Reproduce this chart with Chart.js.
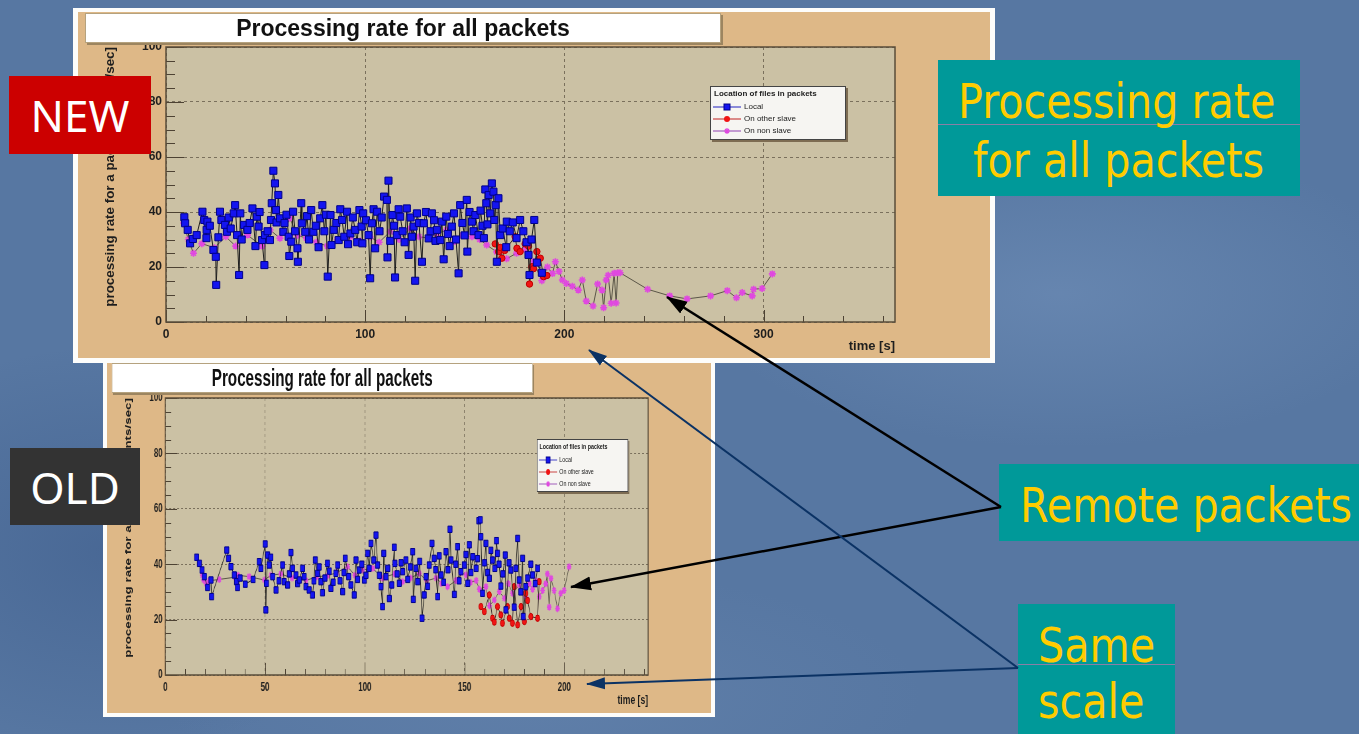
<!DOCTYPE html>
<html>
<head>
<meta charset="utf-8">
<title>Processing rate for all packets</title>
<script src="https://cdn.jsdelivr.net/npm/chart.js@4.4.1/dist/chart.umd.min.js"></script>
<style>
  html, body { margin: 0; padding: 0; }
  body {
    width: 1359px; height: 734px; overflow: hidden; position: relative;
    background:
      radial-gradient(ellipse 38% 30% at 78% 40%, rgba(130,160,200,0.35), rgba(130,160,200,0) 70%),
      radial-gradient(ellipse 30% 40% at 8% 75%, rgba(40,70,120,0.30), rgba(40,70,120,0) 70%),
      radial-gradient(ellipse 40% 25% at 40% 95%, rgba(120,150,190,0.25), rgba(120,150,190,0) 70%),
      #5777a2;
    font-family: "Liberation Sans", Arial, sans-serif;
  }
  .frame { position: absolute; background: #fdfdfb; }
  .panel { position: absolute; width: 912px; background: #deb887; transform-origin: 0 0; }
  .panel canvas { position: absolute; left: 0; top: 0; }
  .ptitle {
    position: absolute; left: 7px; top: 1px; width: 634px; height: 28px;
    background: #fff; border: 1px solid #b5a27e; box-shadow: 2px 2px 0 #9c8560;
    font: bold 23px "Liberation Sans"; line-height: 29px; text-align: center; color: #111;
  }
  .legend {
    position: absolute; background: #f6f5f2; border: 1px solid #444;
    box-shadow: 2px 2px 0 #7d6c52; font: 8px "Liberation Sans"; color: #222;
  }
  .legend .lh { position: absolute; left: 3px; top: 2px; font-weight: bold; white-space: nowrap; }
  .legend .le { position: absolute; left: 2px; height: 12px; line-height: 12px; white-space: nowrap; }
  .legend svg { vertical-align: middle; margin-right: 3px; }
  .xtitle { position: absolute; width: 100px; text-align: right; font: bold 13px "Liberation Sans"; color: #1e1e1e; }
  .tag { position: absolute; color: #fff; font: 44px "Noto Sans"; display: flex; align-items: center; justify-content: center; }
  .teal { position: absolute; background: #009999; }
  .yl {
    position: absolute; color: #ffcc00; font: 48px "DejaVu Sans"; line-height: 48px;
    white-space: nowrap; transform: scaleX(0.86); transform-origin: 0 0;
  }
  #arrows { position: absolute; left: 0; top: 0; }
</style>
</head>
<body>

<div class="frame" style="left:73px;top:8px;width:922px;height:355px"></div>
<div class="panel" id="newPanel" style="left:78px;top:12px;height:346px">
  <canvas id="newChart" width="912" height="346"></canvas>
  <div class="ptitle">Processing rate for all packets</div>
  <div class="legend" style="left:632px;top:74px;width:134px;height:52px">
    <div class="lh">Location of files in packets</div>
    <div class="le" style="top:14px"><svg width="28" height="10"><line x1="0" y1="5" x2="28" y2="5" stroke="#2020c0"/><rect x="11" y="2" width="6" height="6" fill="#1414f0" stroke="#00008a"/></svg>Local</div>
    <div class="le" style="top:26px"><svg width="28" height="10"><line x1="0" y1="5" x2="28" y2="5" stroke="#c02020"/><circle cx="14" cy="5" r="3" fill="#f01414"/></svg>On other slave</div>
    <div class="le" style="top:38px"><svg width="28" height="10"><line x1="0" y1="5" x2="28" y2="5" stroke="#9040b0"/><path d="M11 5h6M14 2v6M12 3l4 4M16 3l-4 4" stroke="#e048e0" stroke-width="1.2"/></svg>On non slave</div>
  </div>
  <div class="xtitle" style="left:717px;top:326px">time [s]</div>
</div>

<div class="frame" style="left:103px;top:360px;width:612px;height:357px"></div>
<div class="panel" id="oldPanel" style="left:107px;top:363px;height:350px;transform:scaleX(0.6623)">
  <canvas id="oldChart" width="912" height="350"></canvas>
  <div class="ptitle" style="top:0px">Processing rate for all packets</div>
  <div class="legend" style="left:649px;top:76px;width:136px;height:51px">
    <div class="lh">Location of files in packets</div>
    <div class="le" style="top:14px"><svg width="28" height="10"><line x1="0" y1="5" x2="28" y2="5" stroke="#2020c0"/><rect x="11" y="2" width="6" height="6" fill="#1414f0" stroke="#00008a"/></svg>Local</div>
    <div class="le" style="top:26px"><svg width="28" height="10"><line x1="0" y1="5" x2="28" y2="5" stroke="#c02020"/><circle cx="14" cy="5" r="3" fill="#f01414"/></svg>On other slave</div>
    <div class="le" style="top:38px"><svg width="28" height="10"><line x1="0" y1="5" x2="28" y2="5" stroke="#9040b0"/><path d="M11 5h6M14 2v6M12 3l4 4M16 3l-4 4" stroke="#e048e0" stroke-width="1.2"/></svg>On non slave</div>
  </div>
  <div class="xtitle" style="left:717px;top:329px">time [s]</div>
</div>

<div class="tag" style="left:9px;top:76px;width:142px;height:78px;background:#cc0000">NEW</div>
<div class="tag" style="left:10px;top:448px;width:130px;height:77px;background:#333333">OLD</div>

<div class="teal" style="left:938px;top:60px;width:362px;height:136px"></div>
<div style="position:absolute;left:938px;top:124px;width:362px;height:1px;background:#8a7fa6"></div>
<div class="yl" style="left:958px;top:77px">Processing rate</div>
<div class="yl" style="left:973px;top:136px">for all packets</div>

<div class="teal" style="left:999px;top:464px;width:360px;height:77px"></div>
<div class="yl" style="left:1020px;top:481px">Remote packets</div>

<div class="teal" style="left:1018px;top:604px;width:157px;height:130px"></div>
<div style="position:absolute;left:1018px;top:664px;width:157px;height:1px;background:#8a7fa6"></div>
<div class="yl" style="left:1038px;top:621px">Same</div>
<div class="yl" style="left:1038px;top:677px">scale</div>

<svg id="arrows" width="1359" height="734">
  <defs>
    <marker id="headBlack" markerUnits="userSpaceOnUse" markerWidth="22" markerHeight="16" refX="20" refY="8" orient="auto">
      <path d="M0,1 L21,8 L0,15 z" fill="#000"/>
    </marker>
    <marker id="headBlue" markerUnits="userSpaceOnUse" markerWidth="20" markerHeight="14" refX="18" refY="7" orient="auto">
      <path d="M0,1 L19,7 L0,13 z" fill="#0b3264"/>
    </marker>
  </defs>
  <line x1="1001" y1="507" x2="667" y2="297" stroke="#000" stroke-width="2.5" marker-end="url(#headBlack)"/>
  <line x1="1001" y1="507" x2="571" y2="587" stroke="#000" stroke-width="2.5" marker-end="url(#headBlack)"/>
  <line x1="1018" y1="668" x2="589" y2="350" stroke="#0b3264" stroke-width="2" marker-end="url(#headBlue)"/>
  <line x1="1018" y1="668" x2="587" y2="684" stroke="#0b3264" stroke-width="2" marker-end="url(#headBlue)"/>
</svg>

<script>
// axis tick labels
var yTickValues = [0, 20, 40, 60, 80, 100];
var newXTickValues = [0, 100, 200, 300];
var oldXTickValues = [0, 50, 100, 150, 200];

// NEW: local packets
var newLocalTime = [
  9.2, 9.6, 10.9, 12.1, 15.4, 18.3, 19.2, 20.3, 20.4, 20.8, 23.8, 25.0, 25.2, 26.3, 27.1, 27.8, 29.6, 30.6, 34.0, 34.7,
  35.7, 36.7, 37.3, 39.2, 40.9, 43.4, 44.9, 45.6, 46.5, 48.2, 49.4, 49.7, 52.2, 52.7, 53.1, 53.9, 54.7, 55.2, 55.5, 56.4,
  57.2, 58.9, 61.6, 61.9, 62.9, 63.8, 66.0, 66.2, 67.9, 68.2, 69.9, 72.9, 74.0, 76.6, 77.4, 78.5, 81.2, 82.6, 83.1, 84.2,
  86.7, 88.4, 90.9, 91.4, 92.6, 97.1, 98.2,
  99.0, 98.6, 101.7, 102.5, 103.4, 105.0, 106.0, 109.5, 110.9, 111.2, 111.7, 113.7, 115.0, 115.9, 117.6, 120.9, 121.8, 124.3,
  125.1, 126.0, 128.5, 129.4, 131.9, 133.5, 136.0, 137.7, 139.4, 140.7, 142.4, 143.5, 146.9, 147.7, 151.0, 151.3, 153.6, 155.3,
  156.9, 160.3, 160.8, 162.0, 162.8, 163.6, 164.4, 164.8, 166.1, 167.8, 170.8, 171.1, 174.1, 177.8, 182.0, 182.5, 184.9, 186.2, 188.7,
  13.5, 22.0, 31.5, 32.5, 38.0, 42.0, 47.0, 51.0, 59.5, 60.5, 64.8, 70.8, 71.8, 75.2, 79.5, 80.3, 85.5, 87.5, 89.5, 93.8,
  95.0, 96.0, 100.4, 104.2, 107.2, 108.3, 112.6, 114.5, 116.8, 118.8, 119.8, 122.8, 123.5, 127.0, 130.5, 132.8, 134.6, 135.3, 138.5, 141.5,
  144.6, 145.6, 148.8, 149.9, 152.4, 154.4, 157.9, 158.9, 159.6, 161.4, 165.5, 166.9, 169.0, 172.6, 176.0, 179.4, 181.0, 183.5
];
var newLocalRate = [
  38.1, 35.9, 33.5, 28.6, 31.6, 40.1, 37.1, 30.5, 33.5, 36.5, 26.2, 23.7, 13.5, 30.8, 40.1, 37.1, 35.3, 32.8, 39.5, 42.5,
  31.6, 17.1, 39.5, 35.3, 33.5, 41.3, 27.6, 38.3, 34.7, 29.8, 20.7, 31.6, 29.8, 37.1, 43.2, 55.0, 50.4, 40.7, 36.2, 46.2,
  37.7, 32.8, 31.0, 24.0, 29.2, 40.1, 26.8, 21.9, 43.2, 35.9, 32.8, 40.7, 32.8, 27.2, 37.7, 42.5, 16.5, 38.9, 28.0, 33.5,
  29.8, 37.1, 40.1, 28.3, 32.2, 40.7, 34.7,
  39.5, 28.6, 31.6, 15.9, 35.9, 26.8, 40.1, 45.6, 44.4, 23.5, 51.4, 38.9, 16.2, 31.6, 38.3, 41.3, 24.4, 34.7,
  15.0, 39.5, 21.9, 35.9, 30.4, 39.5, 33.5, 29.8, 22.8, 38.3, 27.6, 34.7, 17.7, 42.5, 44.4, 25.6, 36.5, 38.9,
  31.6, 48.2, 43.2, 46.2, 39.5, 50.4, 47.4, 37.1, 21.9, 31.6, 27.2, 36.5, 36.2, 37.1, 24.4, 17.1, 37.1, 21.6, 17.9,
  30.2, 35.0, 38.0, 34.0, 30.0, 36.0, 40.0, 33.0, 36.0, 39.0, 33.0, 38.5, 30.0, 35.0, 33.0, 39.0, 36.0, 41.0, 31.0, 38.0,
  33.5, 29.0, 37.0, 41.0, 33.0, 38.0, 29.5, 35.0, 41.0, 33.0, 29.0, 38.0, 31.0, 36.0, 40.0, 33.0, 37.0, 29.5, 36.5, 32.0,
  39.5, 30.0, 36.0, 31.5, 40.0, 33.0, 40.5, 35.0, 30.5, 35.5, 42.5, 45.0, 34.0, 33.0, 30.5, 33.0, 29.0, 30.0
];

// NEW: packets with files on other slave
var newOtherTime = [165.3, 167.0, 167.8, 168.6, 170.0, 175.3, 176.2, 177.8, 180.3, 182.0, 182.5, 183.7, 184.5, 186.2, 187.9, 189.6, 191.2];
var newOtherRate = [28.4, 25.6, 27.1, 23.2, 26.0, 31.0, 26.8, 25.6, 28.4, 27.6, 13.8, 20.1, 19.4, 25.6, 23.2, 16.5, 16.9];

// NEW: packets with files on non slave
var newNonTime = [
  8.8, 11.2, 13.8, 18.0, 24.3, 30.0, 35.0, 40.9, 48.2, 52.2, 57.2, 62.2, 66.0, 70.5, 75.5, 81.0, 86.0, 92.6, 97.5, 102.5,
  107.0, 112.5, 117.0, 122.6, 127.0, 131.9, 136.0, 140.9, 145.0, 149.0, 153.6, 157.5, 161.0, 166.0, 171.0, 176.0, 180.3, 184.5, 188.7, 191.5,
  194.0, 195.5, 197.3, 199.0, 201.0, 204.0, 207.0, 209.0, 211.0, 214.4, 216.7, 218.9, 219.7, 221.0, 222.0, 223.5, 225.0, 226.0, 226.8, 228.0,
  241.8, 252.9, 261.6, 273.4, 281.8, 286.4, 289.3, 294.3, 295.0, 299.3, 304.4
];
var newNonRate = [
  36.0, 30.0, 25.0, 28.5, 27.0, 31.0, 27.6, 31.6, 27.6, 33.5, 30.5, 37.7, 31.5, 30.5, 29.0, 27.6, 30.0, 31.0, 29.5, 30.9,
  29.0, 32.8, 30.0, 34.0, 31.0, 30.5, 32.0, 33.5, 29.3, 31.5, 31.0, 30.0, 28.0, 25.5, 23.0, 25.0, 26.5, 22.0, 15.0, 20.0,
  17.6, 21.9, 18.4, 15.3, 14.0, 13.0, 11.6, 15.3, 7.6, 5.8, 13.8, 11.6, 5.2, 15.3, 17.0, 6.8, 17.7, 6.9, 17.9, 17.9,
  11.9, 9.5, 8.4, 9.5, 11.4, 8.8, 10.7, 9.5, 11.9, 12.2, 17.5
];

// OLD: local packets
var oldLocalTime = [
  15.7, 17.1, 18.4, 19.6, 21.2, 22.9, 23.2, 30.8, 31.7, 32.9, 34.6, 35.7, 36.2, 40.1, 47.1, 47.9, 50.1, 50.4, 50.7, 51.3,
  52.1, 52.9, 55.5, 58.8, 59.6, 61.3, 63.0, 63.8, 65.5, 67.2, 68.8, 70.5, 72.1, 73.8, 75.2, 76.3, 78.0, 78.8, 81.3, 83.0,
  85.5, 86.4, 88.9, 90.2, 91.9, 94.7, 95.6, 97.2, 99.8, 101.4, 103.1, 105.6, 106.4, 108.1, 108.9, 109.5, 110.6, 112.3, 114.8, 115.1,
  117.3, 119.0, 120.6, 124.0, 124.3, 125.6, 126.5, 128.7, 129.8, 130.7, 132.3, 133.7, 134.8, 136.5, 138.2, 140.7, 142.7, 143.2, 144.9, 146.5,
  148.2, 149.9, 151.6, 152.4, 154.1, 155.8, 157.1, 157.9, 158.2, 159.0, 160.7, 162.4, 164.0, 166.0, 166.5, 168.2, 170.4, 170.7, 173.2, 174.9,
  176.6, 177.4, 179.1, 179.4, 180.7, 184.1, 186.6,
  37.5, 44.0, 53.8, 57.0, 62.2, 66.3, 69.6, 74.5, 77.1, 80.0, 82.2, 84.2, 87.6, 89.6, 93.0, 96.4, 98.5, 100.6, 102.2, 104.5,
  107.3, 111.5, 113.5, 116.2, 118.2, 121.5, 122.8, 127.5, 131.5, 135.5, 137.3, 139.5, 141.7, 145.6, 147.3, 150.7, 153.2, 156.5, 160.0, 161.5,
  163.2, 165.2, 167.3, 169.2, 172.3, 175.7, 178.2, 181.6, 183.2, 185.4
];
var oldLocalRate = [
  42.5, 40.3, 37.9, 35.5, 31.6, 34.3, 28.3, 45.1, 42.1, 39.1, 36.1, 33.7, 31.6, 32.8, 40.9, 38.5, 47.3, 23.5, 33.1, 43.3,
  39.7, 42.5, 30.7, 39.7, 33.7, 32.5, 44.2, 38.5, 36.1, 34.3, 38.5, 31.9, 30.7, 28.9, 41.5, 36.7, 33.7, 29.7, 40.3, 31.3,
  36.7, 39.7, 30.1, 42.1, 35.5, 28.9, 41.5, 37.9, 34.3, 43.9, 47.5, 50.5, 39.7, 31.9, 24.7, 43.9, 35.5, 27.6, 46.1, 40.3,
  33.1, 37.3, 41.5, 44.5, 27.3, 38.5, 33.7, 20.5, 28.9, 35.5, 39.7, 47.5, 42.1, 28.3, 36.1, 44.5, 52.6, 41.5, 29.1, 46.3,
  37.3, 39.7, 33.1, 47.0, 42.7, 38.5, 55.7, 56.0, 49.9, 29.5, 47.5, 34.9, 41.5, 48.5, 43.9, 32.1, 43.3, 23.5, 37.9, 24.5,
  49.3, 34.3, 42.1, 21.1, 31.9, 36.1, 38.5,
  35.0, 34.5, 35.5, 34.0, 36.5, 33.0, 35.5, 34.0, 39.0, 35.0, 37.5, 33.5, 34.0, 37.0, 32.5, 34.5, 40.0, 36.0, 38.5, 41.5,
  36.0, 38.5, 32.5, 36.5, 40.5, 34.5, 39.0, 41.0, 32.0, 38.0, 43.0, 33.5, 38.0, 40.0, 34.0, 43.5, 37.0, 42.0, 40.5, 37.0,
  45.0, 38.5, 40.0, 36.5, 40.5, 38.5, 30.0, 35.0, 40.0, 33.0
];

// OLD: packets with files on other slave
var oldOtherTime = [158.2, 159.9, 162.4, 164.0, 164.9, 166.5, 168.2, 169.0, 171.5, 172.4, 174.0, 174.9, 176.6, 178.3, 180.0, 180.7, 181.6, 183.2, 186.6, 187.4];
var oldOtherRate = [24.7, 22.9, 28.9, 20.5, 19.1, 24.7, 21.7, 18.7, 24.7, 20.5, 18.7, 31.9, 18.1, 24.7, 19.3, 29.5, 26.9, 21.1, 20.5, 33.7];

// OLD: packets with files on non slave
var oldNonTime = [
  18.5, 19.1, 20.5, 22.0, 27.0, 34.8, 36.5, 42.0, 49.6, 53.0, 57.9, 63.5, 70.5, 76.0, 81.3, 86.0, 91.4, 95.0, 98.9, 104.0,
  108.9, 110.6, 115.0, 119.0, 123.0, 127.3, 131.0, 135.7, 138.5, 141.5, 145.7, 148.0, 150.7, 153.0, 155.8, 157.4, 160.7, 162.5, 164.9, 167.4,
  169.9, 172.0, 174.0, 177.4, 180.7, 182.5, 184.1, 185.8, 187.4, 189.1, 190.7, 191.5, 192.4, 193.3, 194.9, 196.6, 198.2, 199.9, 202.4
];
var oldNonRate = [
  36.0, 34.3, 33.0, 34.0, 34.5, 35.3, 36.0, 35.5, 34.3, 36.0, 36.5, 35.0, 34.1, 35.5, 35.8, 37.0, 39.1, 36.0, 37.9, 38.5,
  34.9, 35.5, 36.5, 33.7, 35.0, 36.7, 34.0, 35.0, 33.0, 31.9, 34.1, 37.0, 36.1, 33.5, 34.1, 31.0, 31.9, 25.0, 27.1, 30.1,
  27.7, 33.0, 29.5, 32.5, 28.3, 33.0, 31.0, 34.0, 28.3, 30.5, 32.9, 36.5, 24.5, 34.9, 30.5, 23.9, 29.5, 30.5, 39.1
];

function points(times, rates) {
  return times.map(function (t, i) { return { x: t, y: rates[i] }; })
    .sort(function (a, b) { return a.x - b.x; });
}

// ROOT-like frame: grey plot area, inward ticks, dark border
var rootFrame = {
  id: 'rootFrame',
  beforeDraw: function (chart) {
    var ctx = chart.ctx, a = chart.chartArea;
    ctx.save();
    ctx.fillStyle = '#cbc1a4';
    ctx.fillRect(a.left, a.top, a.right - a.left, a.bottom - a.top);
    ctx.restore();
  },
  afterDraw: function (chart, args, opts) {
    var ctx = chart.ctx, a = chart.chartArea, x = chart.scales.x, y = chart.scales.y;
    ctx.save();
    ctx.strokeStyle = '#4d4233';
    ctx.lineWidth = 1;
    for (var i = 0; i * opts.xMinor <= x.max; i++) {
      var px = Math.round(x.getPixelForValue(i * opts.xMinor)) + 0.5;
      var len = i % 5 === 0 ? 12 : 6;
      ctx.beginPath(); ctx.moveTo(px, a.bottom); ctx.lineTo(px, a.bottom - len); ctx.stroke();
    }
    for (var j = 0; j * 5 <= 100; j++) {
      var py = Math.round(y.getPixelForValue(j * 5)) + 0.5;
      var ylen = j % 4 === 0 ? 18 : 9;
      ctx.beginPath(); ctx.moveTo(a.left, py); ctx.lineTo(a.left + ylen, py); ctx.stroke();
    }
    ctx.lineWidth = 1.5;
    ctx.strokeStyle = '#5a4c3a';
    ctx.strokeRect(a.left, a.top, a.right - a.left, a.bottom - a.top);
    ctx.restore();
  }
};

function drawPanel(canvasId, xMax, xTicks, xMinor, xAxisHeight, markerSize, local, other, non) {
  return new Chart(document.getElementById(canvasId), {
    type: 'scatter',
    data: {
      datasets: [
        { label: 'Local', data: local, showLine: true, order: 0,
          borderColor: '#1e1e1e', borderWidth: 1,
          pointStyle: 'rect', pointRadius: markerSize, pointBackgroundColor: '#1414f0',
          pointBorderColor: '#00008a', pointBorderWidth: 1 },
        { label: 'On other slave', data: other, showLine: true, order: 1,
          borderColor: '#3a2a2a', borderWidth: 1,
          pointStyle: 'circle', pointRadius: 3.2, pointBackgroundColor: '#f01414',
          pointBorderColor: '#c00000', pointBorderWidth: 1 },
        { label: 'On non slave', data: non, showLine: true, order: 2,
          borderColor: '#5b5648', borderWidth: 1,
          pointStyle: 'star', pointRadius: 3.5, pointBackgroundColor: '#e048e0',
          pointBorderColor: '#e048e0', pointBorderWidth: 1.6 }
      ]
    },
    options: {
      responsive: false,
      animation: false,
      events: [],
      layout: { padding: { left: 0, right: 95, top: 35, bottom: 0 } },
      plugins: {
        legend: { display: false },
        tooltip: { enabled: false },
        rootFrame: { xMinor: xMinor }
      },
      scales: {
        x: {
          type: 'linear', position: 'bottom', min: 0, max: xMax,
          afterBuildTicks: function (s) { s.ticks = xTicks.map(function (v) { return { value: v }; }); },
          afterFit: function (s) { s.height = xAxisHeight; },
          ticks: { padding: 5, color: '#1e1e1e', font: { family: 'Liberation Sans', size: 12, weight: 'bold' } },
          grid: { color: '#7a705c', lineWidth: 1, drawTicks: false },
          border: { display: false, dash: [3, 3] }
        },
        y: {
          type: 'linear', position: 'left', min: 0, max: 100,
          afterBuildTicks: function (s) { s.ticks = yTickValues.map(function (v) { return { value: v }; }); },
          afterFit: function (s) { s.width = 88; },
          ticks: { padding: 4, color: '#1e1e1e', font: { family: 'Liberation Sans', size: 12, weight: 'bold' } },
          grid: { color: '#7a705c', lineWidth: 1, drawTicks: false },
          border: { display: false, dash: [3, 3] },
          title: {
            display: true, align: 'end', color: '#1e1e1e',
            text: 'processing rate for a packet [events/sec]',
            padding: { top: 24, bottom: 0 },
            font: { family: 'Liberation Sans', size: 13.4, weight: 'bold' }
          }
        }
      }
    },
    plugins: [rootFrame]
  });
}

drawPanel('newChart', 366, newXTickValues, 20, 36, 5,
  points(newLocalTime, newLocalRate), points(newOtherTime, newOtherRate), points(newNonTime, newNonRate));
drawPanel('oldChart', 242, oldXTickValues, 10, 38, 4.5,
  points(oldLocalTime, oldLocalRate), points(oldOtherTime, oldOtherRate), points(oldNonTime, oldNonRate));
</script>
</body>
</html>
